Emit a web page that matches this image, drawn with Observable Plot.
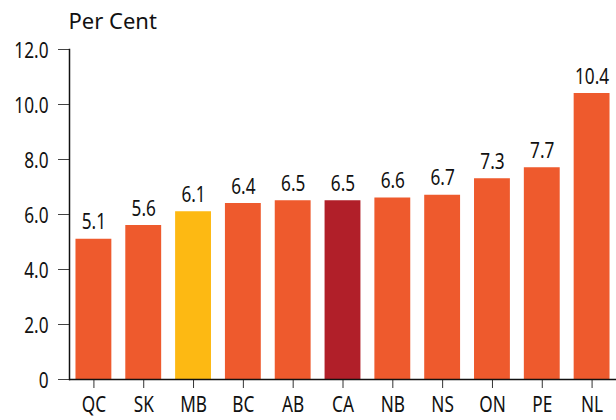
<!DOCTYPE html>
<html><head><meta charset="utf-8">
<script src="https://cdn.jsdelivr.net/npm/d3@7"></script>
<script src="https://cdn.jsdelivr.net/npm/@observablehq/plot@0.6"></script>
<style>
body{margin:0;background:#fff;}
svg{font-family:"Noto Sans","Open Sans",sans-serif;}
</style></head>
<body><div id="chart"></div>
<script>
const provinces = ["QC","SK","MB","BC","AB","CA","NB","NS","ON","PE","NL"];
const rates = [5.1,5.6,6.1,6.4,6.5,6.5,6.6,6.7,7.3,7.7,10.4];
const colors = ["#EE5A2D","#EE5A2D","#FDB913","#EE5A2D","#EE5A2D","#B11F29","#EE5A2D","#EE5A2D","#EE5A2D","#EE5A2D","#EE5A2D"];
const yTicks = [0,2,4,6,8,10,12];
const yTitle = "Per Cent";

const data = provinces.map((p,i)=>({p, v: rates[i], c: colors[i]}));

const chart = Plot.plot({
  width: 616, height: 420,
  marginLeft: 69, marginRight: 0, marginTop: 49, marginBottom: 41,
  style: {fontSize: "21px", color: "#111"},
  x: {domain: provinces, paddingInner: 0.28, paddingOuter: 0.13, round: false, label: null},
  y: {domain: [0,12], label: null},
  marks: [
    Plot.barY(data, {x: "p", y: "v", fill: "c"}),
    Plot.text(data, {x: "p", y: "v", text: d => d.v.toFixed(1), lineAnchor: "bottom", dy: -10, fontSize: 21, fill: "#111"}),
    Plot.axisY({ticks: yTicks, tickSize: 11, tickPadding: 10, tickFormat: d => d === 0 ? "0" : d.toFixed(1), label: null, fontSize: 21, stroke: "#444"}),
    Plot.frame({anchor: "left", stroke: "#111", strokeWidth: 1.5}),
    Plot.axisX({tickSize: 9, tickPadding: 9, label: null, fontSize: 21, stroke: "#333"}),
    Plot.ruleY([0], {stroke: "#111", strokeWidth: 1.5}),
    Plot.text([yTitle], {frameAnchor: "top-left", text: d => d, textAnchor: "start", lineAnchor: "bottom", dy: -21, dx: -1, fontSize: 22, fill: "#111"})
  ]
});
document.getElementById("chart").appendChild(chart);

// condense the tick and value labels horizontally (the reference uses a condensed face)
chart.querySelectorAll("text").forEach(t => {
  if (t.textContent === yTitle) return;
  const b = t.getBBox();
  const anchor = getComputedStyle(t).textAnchor;
  const ax = anchor === "end" ? b.x + b.width : anchor === "middle" ? b.x + b.width / 2 : b.x;
  const shiftY = anchor === "end" ? 2 : 0;
  const tr = t.getAttribute("transform") || "";
  t.setAttribute("transform", `${tr} translate(${ax},${shiftY}) scale(0.82,1) translate(${-ax},0)`.trim());
});
</script></body></html>
